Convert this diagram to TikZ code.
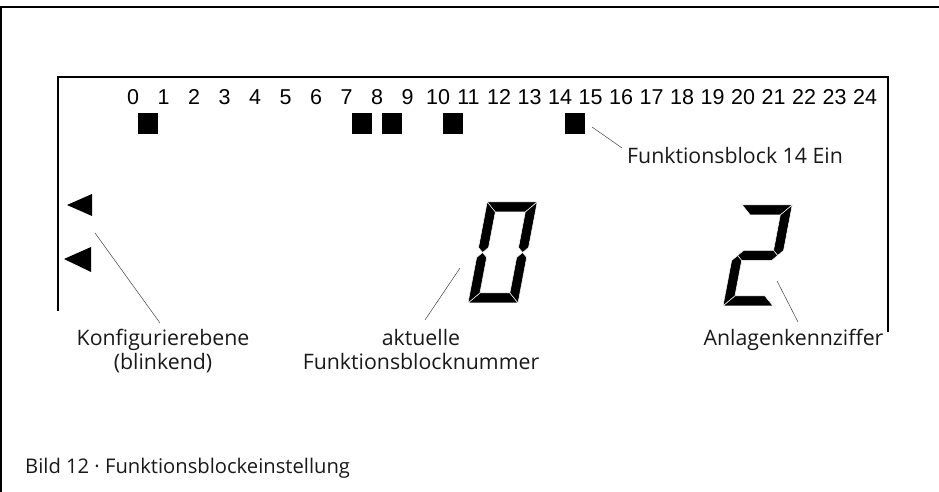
\documentclass[tikz,border=0pt]{standalone}
\usepackage{fontspec}
\newfontfamily\lblfont{Open Sans}
\newfontfamily\numfont{Liberation Sans}
\begin{document}
\begin{tikzpicture}[x=1pt,y=1pt,
  lbl/.style={font=\lblfont\fontsize{21.3}{26}\selectfont, inner sep=0pt, text=black!90},
  captxt/.style={font=\lblfont\fontsize{20.2}{24}\selectfont, inner sep=0pt, text=black!90},
  num/.style={font=\numfont\fontsize{21.5}{24}\selectfont, inner sep=0pt, anchor=base},
  led/.style={fill=black, minimum width=20pt, minimum height=21pt, inner sep=0pt},
  leader/.style={draw=black!75, line width=0.5pt},
  lcdframe/.style={line width=2.8pt},
  seg/.style={fill=black, draw=white, line width=0.5pt}]
\useasboundingbox (0,0) rectangle (939,492);
% outer frame
\draw[line width=1.3pt] (1,0) -- (1,485) -- (939,485);
% display frame
\draw[lcdframe] (58,181) -- (58,415) -- (888,415) -- (888,160);
% number row
\foreach \i in {0,...,24}{
  \node[num] (n\i) at ({133+30.5*\i},387) {\i};
}
% block squares
\foreach \k in {0,7,8,10,14}{
  \node[led] (sq\k) at ({148.25+30.5*\k},368) {};
}
% triangles
\fill (67,287) -- (92,298) -- (92,276) -- cycle;
\fill (64,233) -- (91,245) -- (91,220) -- cycle;
% digit 0
\begin{scope}[shift={(468,189)}, xslant=0.19]
  \path[seg] (0,101) -- (50,101) -- (40,91) -- (10,91) -- cycle;
  \path[seg] (0,0) -- (50,0) -- (40,10) -- (10,10) -- cycle;
  \path[seg] (0,101) -- (10,91) -- (10,55.5) -- (5,50.5) -- (0,55.5) -- cycle;
  \path[seg] (0,0) -- (10,10) -- (10,45.5) -- (5,50.5) -- (0,45.5) -- cycle;
  \path[seg] (50,101) -- (40,91) -- (40,55.5) -- (45,50.5) -- (50,55.5) -- cycle;
  \path[seg] (50,0) -- (40,10) -- (40,45.5) -- (45,50.5) -- (50,45.5) -- cycle;
\end{scope}
% digit 2
\begin{scope}[shift={(723,186)}, xslant=0.19]
  \path[seg] (0,101) -- (50,101) -- (40,91) -- (10,91) -- cycle;
  \path[seg] (50,101) -- (40,91) -- (40,55.5) -- (45,50.5) -- (50,55.5) -- cycle;
  \path[seg] (5,50.5) -- (10,55.5) -- (40,55.5) -- (45,50.5) -- (40,45.5) -- (10,45.5) -- cycle;
  \path[seg] (0,0) -- (10,10) -- (10,45.5) -- (5,50.5) -- (0,45.5) -- cycle;
  \path[seg] (0,0) -- (50,0) -- (40,10) -- (10,10) -- cycle;
\end{scope}
% labels
\node[lbl, anchor=base west] (lab14) at (627,328) {Funktionsblock 14 Ein};
\node[lbl, anchor=base] (konfA) at (163,146) {Konfigurierebene};
\node[lbl, anchor=base] (konfB) at (163,122) {(blinkend)};
\node[lbl, anchor=base] (aktA) at (421,146) {aktuelle};
\node[lbl, anchor=base] (aktB) at (421,122) {Funktionsblocknummer};
\node[lbl, anchor=base] (anl) at (793.5,146) {Anlagenkennziffer};
\node[captxt, anchor=base west] (caption) at (25,18) {Bild 12 · Funktionsblockeinstellung};
% leader end points
\coordinate (l14a) at (592,365);
\coordinate (l14b) at (622,344);
\coordinate (lka) at (95,259);
\coordinate (lkb) at (160,169);
\coordinate (laa) at (460,224);
\coordinate (lab) at (425,172);
\coordinate (lna) at (777,211);
\coordinate (lnb) at (798,170);
\draw[leader] (l14a) -- (l14b);
\draw[leader] (lka) -- (lkb);
\draw[leader] (laa) -- (lab);
\draw[leader] (lna) -- (lnb);
\end{tikzpicture}
\end{document}
